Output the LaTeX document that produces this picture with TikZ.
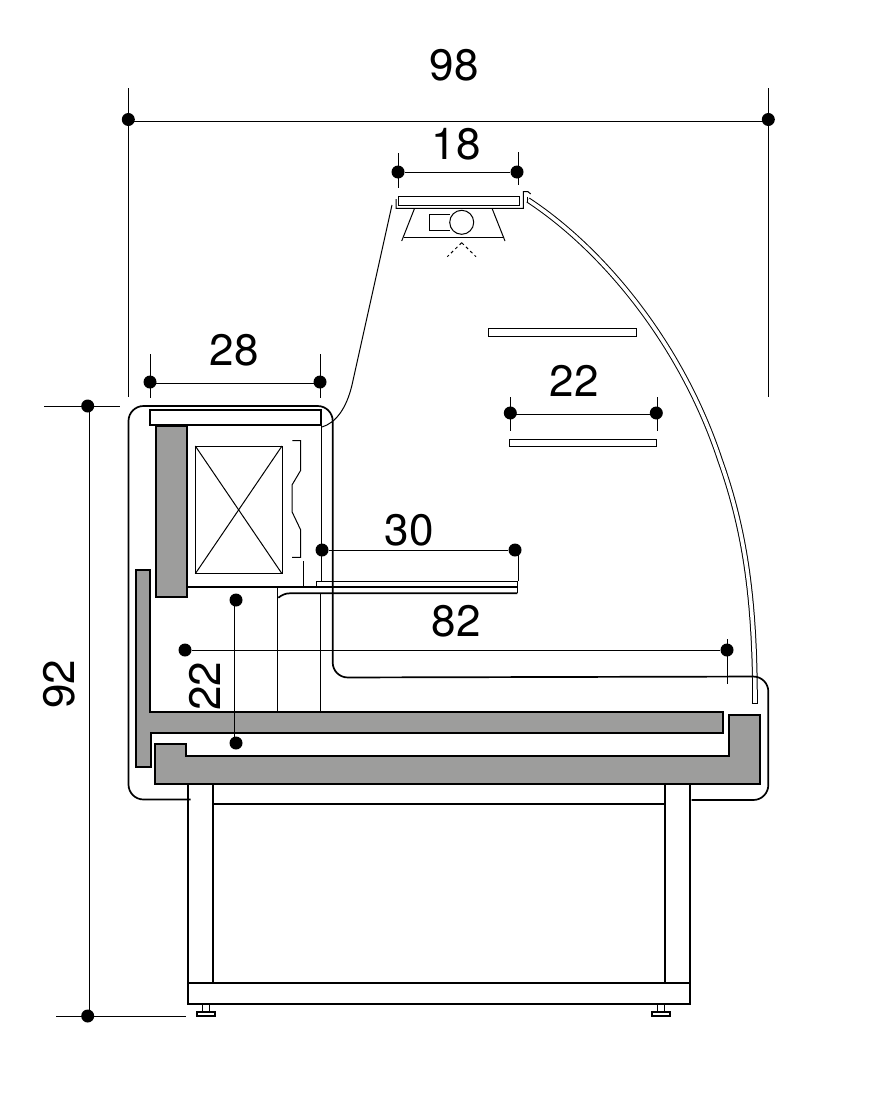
\documentclass[tikz,border=0pt]{standalone}
\usepackage{fontspec}
\setmainfont{TeX Gyre Heros}
\definecolor{fillgray}{HTML}{9D9D9C}

\begin{document}
\begin{tikzpicture}[x=1pt,y=-1pt,
    dot/.style={circle,fill=black,inner sep=0pt,minimum size=13pt},
    size/.style={inner sep=0pt,font=\fontsize{44}{50}\selectfont},
    thin line/.style={line width=1pt},
    thick line/.style={line width=1.7pt},
    solid part/.style={draw,line width=1.7pt,fill=fillgray}]

    \useasboundingbox (0,0) rectangle (886,1100);

    % dimension points
    \node[dot] (LW) at (128.3,119.5) {};
    \node[dot] (RW) at (768.3,119.5) {};
    \node[dot] (LL) at (398,172) {};
    \node[dot] (RL) at (517,172) {};
    \node[dot] (LT) at (150,382) {};
    \node[dot] (RT) at (320,382) {};
    \node[dot] (LS) at (510.3,413) {};
    \node[dot] (RS) at (656.3,413) {};
    \node[dot] (LD) at (322,550) {};
    \node[dot] (RD) at (515,550) {};
    \node[dot] (LB) at (185,650) {};
    \node[dot] (RB) at (727,650) {};
    \node[dot] (TH) at (87.7,406) {};
    \node[dot] (BH) at (87.7,1016) {};
    \node[dot] (TC) at (236,600) {};
    \node[dot] (BC) at (236,743) {};

    \node[size] (W) at (454,65) {98};
    \node[size] (L) at (456,144) {18};
    \node[size] (T) at (234,350) {28};
    \node[size] (S) at (574,381) {22};
    \node[size] (D) at (409,530) {30};
    \node[size] (B) at (456,621) {82};
    \node[size,rotate=90] (H) at (59,684) {92};
    \node[size,rotate=90] (C) at (205,686) {22};

    \draw[thin line] ([yshift=-2pt]LW.center) -- ([yshift=-2pt]RW.center);
    \draw[thin line] (LL) -- (RL);
    \draw[thin line] ([yshift=-1pt]LT.center) -- ([yshift=-1pt]RT.center);
    \draw[thin line] ([yshift=-1pt]LS.center) -- ([yshift=-1pt]RS.center);
    \draw[thin line] (LD) -- (RD);
    \draw[thin line] (LB) -- (RB);
    \draw[thin line] ([xshift=2pt]TH.center) -- ([xshift=2pt]BH.center);

    % ticks
    \draw[thin line] (128.3,88) -- (128.3,397);
    \draw[thin line] (768.3,88) -- (768.3,397);
    \draw[thin line] (398,153) -- (398,188);
    \draw[thin line] (518,152) -- (518,185);
    \draw[thin line] (150,354) -- (150,398);
    \draw[thin line] (320,354) -- (320,398);
    \draw[thin line] (510.3,397.3) -- (510.3,430.7);
    \draw[thin line] (657,397.3) -- (657,430.7);
    \draw[thin line] (44,406) -- (120,406);
    \draw[thin line] (56,1016) -- (186,1016);
    \draw[thin line] (727,639) -- (727,684);
    \draw[thin line] (518,550) -- (518,581);

    % lamp
    \draw[thin line] (398.3,196.7) rectangle (519,205);
    \draw[thin line] (396,199) -- (396,208.3) -- (523.3,208.3) -- (523.3,191.7) -- (528,191.7) -- (530.7,194);
    \draw[thin line] (414.3,209) -- (401.7,241);
    \draw[thin line] (492.3,209) -- (505,241);
    \draw[thin line] (403.7,237.3) -- (503.3,237.3);
    \draw[thin line] (450,214) -- (429.3,214) -- (429.3,230.7) -- (450,230.7);
    \draw[thin line] (461.7,222.3) circle (12);
    \draw[thin line,dashed] (461.7,242.7) -- (447.3,256.7);
    \draw[thin line,dashed] (461.7,242.7) -- (476,256.7);

    % glass
    \draw[thin line] (392,205) -- (352,385) .. controls (346,410) and (335,423) .. (322,427);
    \draw[thin line,double,double distance=3.6pt] (528,200) .. controls (604,250) and (682,345) .. (720,460)
        .. controls (745,530) and (755,600) .. (755,703);
    \draw[thin line] (527.7,196.7) -- (527.7,203.3);
    \draw[thin line] (751.7,703) -- (757.8,703);

    % shelves
    \draw[thin line] (488.3,328.3) rectangle (636.3,336);
    \draw[thin line] (509,439.7) rectangle (656.3,446.7);
    \draw[thin line] (316.7,586.7) -- (316.7,581.3) -- (517.3,581.3) -- (517.3,593.3);
    \draw[thick line] (185,586.7) -- (517.3,586.7);
    \draw[thick line] (278.3,597.7) .. controls (282,595) and (285,593.3) .. (290,593.3) -- (517.3,593.3);

    % body
    \draw[thick line,rounded corners=15pt] (190.7,799.5) -- (128.5,799.5) -- (128.5,406) -- (332.7,406) -- (332.7,677.5) -- (768.3,676.5) -- (768.3,800) -- (691.7,800);
    \draw[thick line] (150,409.7) rectangle (321,425);
    \draw[solid part] (155.7,425.7) rectangle (186.7,597.3);
    \draw[thin line] (195.3,446) rectangle (282,573.7);
    \draw[thin line] (195.3,446) -- (282,573.7);
    \draw[thin line] (282,446) -- (195.3,573.7);
    \draw[thin line] (292.3,440.7) -- (300.7,440.7) -- (300.7,470.3) -- (292,485) -- (292,511.7) -- (300.7,530) -- (300.7,557.3) -- (292,557.3);
    \draw[thin line] (321.7,425) -- (321.7,581.3);
    \draw[thin line] (303.7,561) -- (303.7,586.7);
    \draw[thin line] (277.7,586.7) -- (277.7,712.3);
    \draw[thin line] (320.7,593.3) -- (320.7,712.3);
    \draw[solid part] (135.7,570) -- (150,570) -- (150,712.3) -- (722.7,712.3) -- (722.7,733) -- (150.7,733) -- (150.7,767.3) -- (135.7,767.3) -- cycle;
    \draw[solid part] (154.7,744.3) -- (186,744.3) -- (186,756.3) -- (729,756.3) -- (729,714.7) -- (760.3,714.7) -- (760.3,783.7) -- (154.7,783.7) -- cycle;
    \draw[thin line] ([xshift=-1.5pt]TC.center) -- ([xshift=-1.5pt]BC.center);

    % stand
    \draw[thick line] (188.3,783.7) -- (188.3,982.7);
    \draw[thick line] (213,783.7) -- (213,982.7);
    \draw[thick line] (665,783.7) -- (665,982.7);
    \draw[thick line] (689.7,783.7) -- (689.7,982.7);
    \draw[thick line] (213,804.3) -- (665,804.3);
    \draw[thick line] (188.3,982.7) rectangle (689.7,1003.7);

    % feet
    \draw[thin line] (202.7,1003.7) -- (202.7,1012.3);
    \draw[thin line] (209.3,1003.7) -- (209.3,1012.3);
    \draw[thick line] (196.7,1012.3) rectangle (215.3,1016.3);
    \draw[thin line] (657.7,1003.7) -- (657.7,1012.3);
    \draw[thin line] (664.3,1003.7) -- (664.3,1012.3);
    \draw[thick line] (651.7,1012.3) rectangle (670.3,1016.3);
\end{tikzpicture}
\end{document}
